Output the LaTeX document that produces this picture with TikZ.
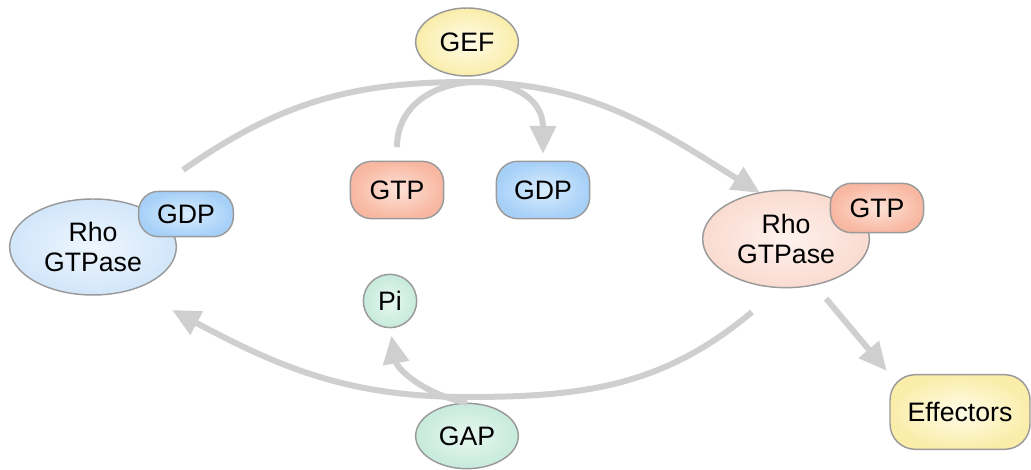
\documentclass[tikz,border=0pt]{standalone}
\usepackage{fontspec}
\setmainfont{Liberation Sans}
\usepackage{tikz}
\usetikzlibrary{shapes.geometric,arrows.meta}
\definecolor{edgegray}{HTML}{9A9A9A}
\definecolor{arrowgray}{HTML}{CFCFCF}
\definecolor{yelIn}{HTML}{FFFCE8}
\definecolor{yelOut}{HTML}{FAEDAA}
\definecolor{gtpIn}{HTML}{FDE2D8}
\definecolor{gtpOut}{HTML}{F8B7A0}
\definecolor{gdpIn}{HTML}{D8ECFD}
\definecolor{gdpOut}{HTML}{A6D0F8}
\definecolor{rhoBlueIn}{HTML}{EEF6FE}
\definecolor{rhoBlueOut}{HTML}{D2E6FA}
\definecolor{rhoRedIn}{HTML}{FEF2EE}
\definecolor{rhoRedOut}{HTML}{FADBD0}
\definecolor{mintIn}{HTML}{E8F7F0}
\definecolor{mintOut}{HTML}{C6EADB}

\begin{document}
\begin{tikzpicture}[x=0.75pt, y=0.75pt,
  every node/.style={font=\fontsize{20}{23}\selectfont, align=center, inner sep=0pt},
  blob/.style={ellipse, draw=edgegray, line width=1.1pt, shade},
  pill/.style={rectangle, rounded corners=16pt, draw=edgegray, line width=1.1pt, shade,
    minimum width=70pt, minimum height=43pt},
  cyclearrow/.style={draw=arrowgray, line width=4.5pt, -{Triangle[length=21pt,width=19pt]}}]
  \useasboundingbox (0,0) rectangle (1031,470);

  % cycle arcs
  \coordinate (topL) at (183,300);
  \coordinate (topM) at (467,388);
  \coordinate (topR) at (760,277);
  \coordinate (botR) at (752,158);
  \coordinate (botM) at (467,73);
  \coordinate (botL) at (172,160);
  \draw[cyclearrow] (topL) to[out=35,in=180] (topM) to[out=0,in=148] (topR);
  \draw[cyclearrow] (botR) to[out=-140,in=0] (botM) to[out=180,in=-28] (botL);

  \node[blob, inner color=yelIn, outer color=yelOut, minimum width=77pt, minimum height=51pt] (gef) at (467,428) {GEF};
  \node[pill, inner color=gtpIn, outer color=gtpOut] (gtpA) at (397,280) {GTP};
  \node[pill, inner color=gdpIn, outer color=gdpOut] (gdpA) at (543,280) {GDP};

  \node[blob, inner color=rhoBlueIn, outer color=rhoBlueOut, minimum width=125pt, minimum height=72pt] (rhoL) at (93,223) {Rho\\GTPase};
  \node[pill, inner color=gdpIn, outer color=gdpOut, minimum width=71pt, minimum height=34pt, rounded corners=15pt] (gdpL) at (186,256) {GDP};

  \node[blob, inner color=rhoRedIn, outer color=rhoRedOut, minimum width=125pt, minimum height=73pt] (rhoR) at (786,231) {Rho\\GTPase};
  \node[pill, inner color=gtpIn, outer color=gtpOut, minimum height=37pt] (gtpR) at (877,262) {GTP};

  \node[circle, draw=edgegray, line width=1.1pt, shade, inner color=mintIn, outer color=mintOut, minimum size=40pt] (pi) at (390,169) {Pi};
  \node[blob, inner color=mintIn, outer color=mintOut, minimum width=77pt, minimum height=49pt] (gap) at (467,34) {GAP};
  \node[pill, inner color=yelIn, outer color=yelOut, minimum width=105pt, minimum height=56pt, rounded corners=19pt] (eff) at (960,58) {Effectors};

  % exchange and hydrolysis
  \draw[cyclearrow, shorten <=10pt, shorten >=5pt] (gtpA.north) to[out=90,in=90,looseness=1.7] (gdpA.north);
  \draw[cyclearrow, shorten >=5.5pt] (gap.north) to[out=170,in=-80] (pi.south);
  \draw[cyclearrow, shorten <=13pt, shorten >=3pt] (rhoR.-58) -- (eff.north west);
\end{tikzpicture}
\end{document}
